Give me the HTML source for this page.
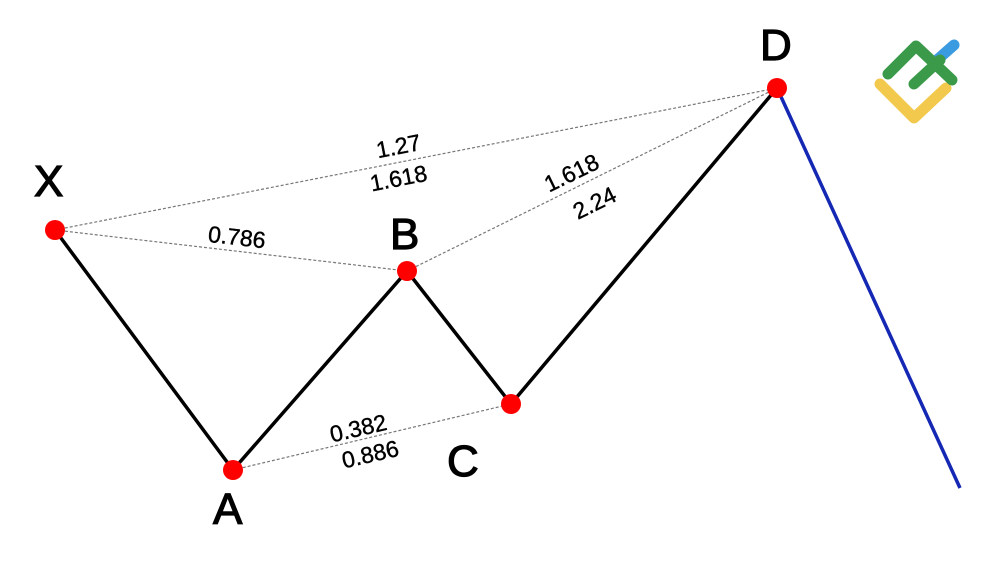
<!DOCTYPE html>
<html><head><style>
html,body{margin:0;padding:0;background:#fff;}
svg{display:block;}
text{font-family:"Liberation Sans",sans-serif;fill:#000;}
</style></head><body>
<svg width="1000" height="573" viewBox="0 0 1000 573">
<g stroke="#777" stroke-width="1.2" stroke-dasharray="3,2" fill="none">
<line x1="55" y1="230" x2="777" y2="88"/>
<line x1="55" y1="230" x2="407" y2="271"/>
<line x1="407" y1="271" x2="777" y2="88"/>
<line x1="233" y1="470" x2="511" y2="404"/>
</g>
<polyline points="55,230 233,470 407,271 511,404 777,88" fill="none" stroke="#000" stroke-width="3.5" stroke-linejoin="round"/>
<line x1="777" y1="88" x2="960" y2="488" stroke="#1428b4" stroke-width="3.5"/>
<g fill="#f00">
<circle cx="55" cy="230" r="10"/><circle cx="233" cy="470" r="10"/>
<circle cx="407" cy="271" r="10"/><circle cx="511" cy="404" r="10"/>
<circle cx="777" cy="88" r="10"/>
</g>
<g font-size="44" style="stroke:#000;stroke-width:1.2">
<text x="34" y="196">X</text>
<text x="213" y="524">A</text>
<text x="390" y="249">B</text>
<text x="447" y="476">C</text>
<text x="760" y="60">D</text>
</g>
<g font-size="23" style="stroke:#000;stroke-width:0.4">
<text x="400" y="154" text-anchor="middle" transform="rotate(-11 400 154)">1.27</text>
<text x="400" y="186" text-anchor="middle" transform="rotate(-11 400 186)">1.618</text>
<text x="236" y="245" text-anchor="middle" transform="rotate(6.6 236 245)">0.786</text>
<text x="575" y="180" text-anchor="middle" transform="rotate(-26 575 180)">1.618</text>
<text x="598" y="210" text-anchor="middle" transform="rotate(-26 598 210)">2.24</text>
<text x="360" y="436" text-anchor="middle" transform="rotate(-13 360 436)">0.382</text>
<text x="372" y="462" text-anchor="middle" transform="rotate(-13 372 462)">0.886</text>
</g>
<g fill="none" stroke-linecap="round" stroke-linejoin="round" stroke-width="11">
<polyline points="880,84 914,118 946,88" stroke="#f2c94c"/>
<line x1="937" y1="60" x2="954" y2="45" stroke="#3b9be0"/>
<polyline points="888,74 916,46 952,80" stroke="#3a9a4a"/>
<line x1="914" y1="84" x2="940" y2="60" stroke="#3a9a4a"/>
</g>
</svg>
</body></html>
